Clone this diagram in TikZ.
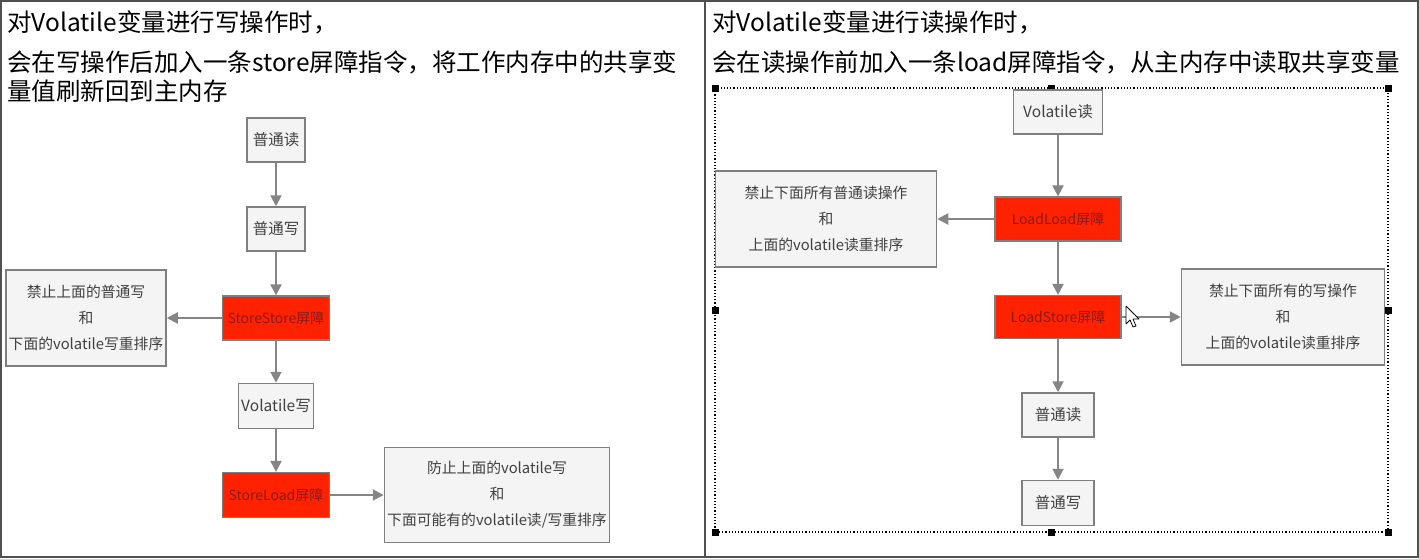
\documentclass[tikz,border=0pt]{standalone}
\usepackage{fontspec}
\setmainfont{Noto Sans CJK SC}
\newfontfamily\cjkfont{Noto Sans CJK SC}
\usetikzlibrary{arrows.meta}
\definecolor{boxfill}{HTML}{F4F4F4}
\definecolor{boxline}{HTML}{7F7F7F}
\definecolor{boxtext}{HTML}{404040}
\definecolor{barred}{HTML}{FF2200}
\definecolor{bartext}{HTML}{8B1A1A}
\definecolor{arrowgray}{HTML}{858585}
\definecolor{framegray}{HTML}{505050}
\tikzset{
  opbox/.style={draw=boxline, fill=boxfill, line width=1.5pt, text=boxtext, inner sep=0pt,
    font=\fontsize{15.5}{26}\selectfont, align=center},
  barbox/.style={draw=boxline, fill=barred, line width=1.2pt, text=bartext, inner sep=0pt,
    font=\fontsize{14}{20}\selectfont, align=center},
  notebox/.style={draw=boxline, fill=boxfill, line width=1.5pt, text=boxtext, inner sep=0pt,
    font=\fontsize{14.8}{26}\selectfont, align=center},
  flow/.style={draw=arrowgray, line width=2pt, -{Triangle[length=11pt,width=11pt]}},
  header/.style={anchor=west, inner sep=0pt, font=\fontsize{24.5}{28}\selectfont, text=black},
  handle/.style={fill=black, draw=none, minimum size=7pt, inner sep=0pt}
}
\begin{document}
\begin{tikzpicture}[x=1pt,y=-1pt]
\useasboundingbox (0,0) rectangle (1419,558);
\fill[white] (0,0) rectangle (1419,558);
% frame
\draw[framegray, line width=2pt] (1,1) rectangle (1418,557);
\draw[framegray, line width=2pt] (705,0) -- (705,558);

% headers left
\node[header] (hl1) at (7,22) {对Volatile变量进行写操作时，};
\node[header] (hl2) at (7,62) {会在写操作后加入一条store屏障指令，将工作内存中的共享变};
\node[header] (hl3) at (7,91) {量值刷新回到主内存};
% headers right
\node[header] (hr1) at (712,22) {对Volatile变量进行读操作时，};
\node[header] (hr2) at (712,62) {会在读操作前加入一条load屏障指令，从主内存中读取共享变量};

% left diagram
\node[opbox, minimum width=58pt, minimum height=44pt] (lr) at (276,140) {普通读};
\node[opbox, minimum width=58pt, minimum height=44pt] (lw) at (276,229) {普通写};
\node[barbox, minimum width=107pt, minimum height=44pt] (ss) at (276,318) {StoreStore屏障};
\node[notebox, minimum width=160pt, minimum height=96pt] (ssn) at (86,318) {禁止上面的普通写\\和\\下面的volatile写重排序};
\node[opbox, minimum width=75pt, minimum height=45pt] (vw) at (276,406) {Volatile写};
\node[barbox, minimum width=107pt, minimum height=45pt] (sl) at (276,495) {StoreLoad屏障};
\node[notebox, minimum width=225pt, minimum height=95pt] (sln) at (497,495) {防止上面的volatile写\\和\\下面可能有的volatile读/写重排序};

\draw[flow] (lr) -- (lw);
\draw[flow] (lw) -- (ss);
\draw[flow] (ss) -- (ssn);
\draw[flow] (ss) -- (vw);
\draw[flow] (vw) -- (sl);
\draw[flow] (sl) -- (sln);

% right diagram: selection frame
\draw[black, line width=1.2pt, dotted] (715,88) rectangle (1388,532);
\foreach \p/\n in {{715,88}/a,{1051,88}/b,{1388,88}/c,{715,310}/d,{1388,310}/e,{715,532}/f,{1051,532}/g,{1388,532}/h}
  \node[handle] (hd\n) at (\p) {};

\node[opbox, minimum width=89pt, minimum height=44pt] (vr) at (1058,112) {Volatile读};
\node[barbox, minimum width=126pt, minimum height=44pt] (ll) at (1058,219) {LoadLoad屏障};
\node[notebox, minimum width=221pt, minimum height=96pt] (lln) at (826,219) {禁止下面所有普通读操作\\和\\上面的volatile读重排序};
\node[barbox, minimum width=126pt, minimum height=43pt] (ls) at (1058,317) {LoadStore屏障};
\node[notebox, minimum width=203pt, minimum height=96pt] (lsn) at (1283,317) {禁止下面所有的写操作\\和\\上面的volatile读重排序};
\node[opbox, minimum width=72pt, minimum height=44pt] (nr) at (1058,415) {普通读};
\node[opbox, minimum width=72pt, minimum height=45pt] (nw) at (1058,503) {普通写};

\draw[flow] (vr) -- (ll);
\draw[flow] (ll) -- (lln);
\draw[flow] (ll) -- (ls);
\draw[flow] (ls) -- (lsn);
\draw[flow] (ls) -- (nr);
\draw[flow] (nr) -- (nw);

% mouse cursor
\draw[black, fill=white, line width=0.8pt, line join=round]
  (1126,306) -- (1126,324) -- (1130,320) -- (1133,327) -- (1136,326) -- (1133,319) -- (1139,319) -- cycle;
\end{tikzpicture}
\end{document}
